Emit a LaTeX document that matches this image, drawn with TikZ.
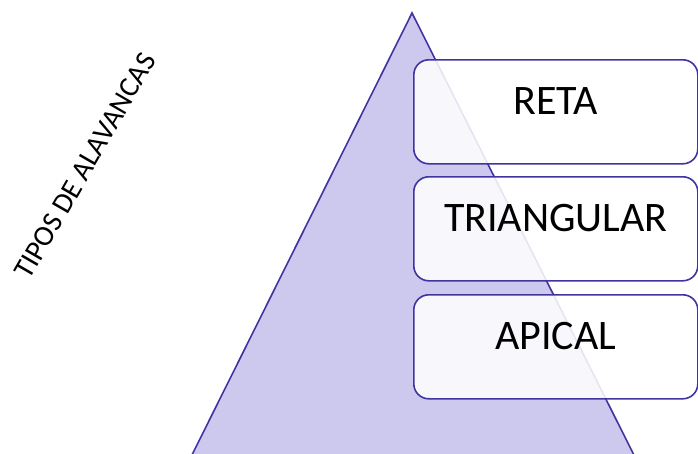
\documentclass[tikz,border=0pt]{standalone}
\usepackage{fontspec}
\setmainfont{Carlito}
\definecolor{triFill}{HTML}{CDC9EE}
\definecolor{lineC}{HTML}{4034A0}
\begin{document}
\begin{tikzpicture}[x=1pt,y=-1pt]
\tikzset{
 levelbox/.style={draw=lineC, line width=1.6pt, fill=white, fill opacity=0.87, rounded corners=15pt, minimum width=284pt, minimum height=104pt, inner sep=0pt, anchor=north west},
 leveltext/.style={font=\fontsize{42}{50}\selectfont, text=black, anchor=base, inner sep=0pt},
 pyramid/.style={draw=lineC, fill=triFill, line width=1.6pt, line join=miter},
}
\useasboundingbox (0,0) rectangle (698,453);
\begin{scope}
\clip (0,0) rectangle (698,453);
\coordinate (apex) at (412,13);
\coordinate (bl) at (183,473);
\coordinate (br) at (643,473);
\path[pyramid] (apex) -- (bl) -- (br) -- cycle;
\node[levelbox] (reta) at (413,59) {};
\node[levelbox] (tri) at (413,176) {};
\node[levelbox] (api) at (413,294) {};
\node[leveltext] (retat) at ([yshift=-55pt]reta.north) {RETA};
\node[leveltext] (trit) at ([yshift=-55pt]tri.north) {TRIANGULAR};
\node[leveltext] (apit) at ([yshift=-55pt]api.north) {APICAL};
\end{scope}
\node[font=\fontsize{29}{35}\selectfont, rotate=60, inner sep=0pt] (title) at (85,166) {TIPOS DE ALAVANCAS};
\end{tikzpicture}
\end{document}
